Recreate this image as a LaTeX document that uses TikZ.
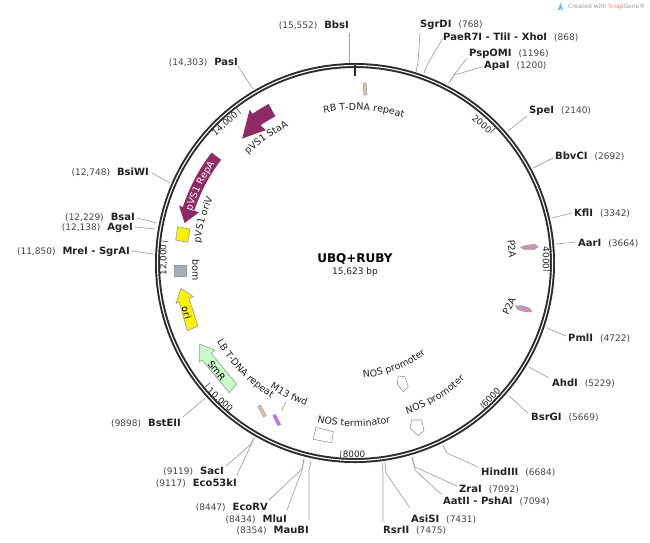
\documentclass[tikz,border=0pt]{standalone}
\usepackage{fontspec}
\usetikzlibrary{decorations.text}
\setmainfont{DejaVu Sans}
\definecolor{ringc}{HTML}{2B2B2B}
\definecolor{leadc}{HTML}{A8A498}
\definecolor{txtc}{HTML}{222222}
\definecolor{numc}{HTML}{444444}
\definecolor{maroonc}{HTML}{8E2A66}
\definecolor{bomc}{HTML}{A8AEB6}
\definecolor{pinkc}{HTML}{CC94B4}
\definecolor{beigec}{HTML}{DCC4A4}
\definecolor{m13c}{HTML}{C070F0}
\definecolor{smrc}{HTML}{C8FBC8}
\tikzset{
  lab/.style={inner sep=0pt,font=\fontsize{10}{12}\selectfont,text=txtc},
  flab/.style={inner sep=0pt,font=\fontsize{9.5}{11}\selectfont,text=txtc},
  ticklab/.style={inner sep=0pt,font=\fontsize{8.8}{11}\selectfont,text=txtc},
  leadline/.style={draw=leadc,line width=0.7pt},
  feat/.style={draw=gray!80,line width=0.6pt},
  pinkf/.style={feat,fill=pinkc},
  maroon/.style={draw=none,fill=maroonc},
  tickl/.style={draw=gray!70!black,line width=0.7pt},
}
\newcommand{\numfont}{\fontsize{9}{11}\selectfont}
\newcommand{\siteR}[5]{\node[lab,anchor=west] (#1) at (#2,#3) {\textbf{#4}\hspace{7pt}\textcolor{numc}{\numfont(#5)}};}
\newcommand{\siteL}[5]{\node[lab,anchor=east] (#1) at (#2,#3) {\textcolor{numc}{\numfont(#5)}\hspace{7pt}\textbf{#4}};}
\newcommand{\leadA}[3]{\coordinate (#1a) at (#2); \coordinate (#1b) at (#3); \draw[leadline] (#1a) -- (#1b);}
\newcommand{\leadB}[4]{\coordinate (#1a) at (#2); \coordinate (#1m) at (#3); \coordinate (#1b) at (#4); \draw[leadline] (#1a) -- (#1m) -- (#1b);}
% curved text: radius of baseline, centre angle, text colour, text
\newcommand{\cwtext}[4]{\pgfmathsetmacro{\aS}{#2+40}\pgfmathsetmacro{\aE}{#2-40}%
  \path[decorate,decoration={text along path,text align=center,text={|\fontsize{9.5}{11}\selectfont\color{#3}|#4}}]
   (\aS:#1 pt) arc[start angle=\aS,end angle=\aE,radius=#1 pt];}
\newcommand{\ccwtext}[4]{\pgfmathsetmacro{\aS}{#2-40}\pgfmathsetmacro{\aE}{#2+40}%
  \path[decorate,decoration={text along path,text align=center,text={|\fontsize{9.5}{11}\selectfont\color{#3}|#4}}]
   (\aS:#1 pt) arc[start angle=\aS,end angle=\aE,radius=#1 pt];}
\begin{document}
\begin{tikzpicture}[x=1pt,y=-1pt]
\useasboundingbox (0,0) rectangle (650,542);
\fill[white] (0,0) rectangle (650,542);
\coordinate (ctr) at (355,263);
% leaders
\leadA{bbs}{349,33}{349,63}
\leadA{pas}{238,66}{253,89}
\leadA{bsi}{152,173}{170,183}
\leadA{bsa}{137,218}{157,223}
\leadA{age}{135,227}{155,229}
\leadA{mre}{132,251}{153,254}
\leadA{bst}{183,417}{205,398}
\leadB{sac}{226,466}{250,445}{254,438}
\leadB{eco}{237,475}{250,447}{254,438}
\leadB{ecr}{269,500}{302,469}{304,459}
\leadB{mlu}{287,510}{302,470}{304,459}
\leadB{mau}{309,520}{309,470}{311,461}
\leadB{rsr}{383,521}{383,473}{382,463}
\leadB{asi}{410,508}{386,473}{385,462}
\leadB{aat}{441,494}{415,470}{412,457}
\leadB{zra}{457,486}{415,467}{412,457}
\leadB{hin}{478,467}{447,453}{443,445}
\leadA{bsr}{528,413}{509,396}
\leadA{ahd}{549,378}{529,367}
\leadA{pml}{566,336}{547,328}
\leadA{aar}{576,242}{556,244}
\leadA{kfl}{572,213}{552,218}
\leadA{bbv}{553,158}{533,168}
\leadA{spe}{527,116}{508,131}
\leadB{psp}{467,58}{454,75}{449,83}
\leadB{apa}{482,67}{454,75}{449,83}
\leadB{pae}{443,38}{427,65}{424,73}
\leadB{sgr}{420,33}{418,62}{416,72}
\coordinate (m13a) at (281.7,410.7); \coordinate (m13b) at (286,401.7);
\draw[leadline] (m13a) -- (m13b);
% ring
\draw[ringc,line width=5pt] (ctr) circle[radius=197.5pt];
\draw[white,line width=1.1pt] (ctr) circle[radius=197.5pt];
\begin{scope}[shift={(355,263)}]
\foreach \a in {43.9,-2.2,-48.3,-94.3,-140.4,173.5,127.4}{
  \draw[tickl] (\a:195pt) -- (\a:188pt);
}
\draw[ringc,line width=1.5pt] (90:198pt) -- (90:187pt);
% pVS1 RepA band
\path[maroon] (142.4:181pt) arc[start angle=142.4,end angle=162,radius=181pt]
  -- (162:185pt) -- (166.8:175pt) -- (162:164pt) -- (162:169pt)
  arc[start angle=162,end angle=142.4,radius=169pt] -- cycle;
% pVS1 StaA band
\path[maroon] (118.5:181pt) arc[start angle=118.5,end angle=124.5,radius=181pt]
  -- (124.5:186pt) -- (132.2:168pt) -- (123.8:160pt) -- (124.5:167pt)
  arc[start angle=124.5,end angle=118.5,radius=167pt] -- cycle;
% curved feature labels
\cwtext{171.5}{153.6}{white}{pVS1 RepA}
\cwtext{153}{86.7}{txtc}{RB T-DNA repeat}
\cwtext{152}{125.3}{txtc}{pVS1 StaA}
\cwtext{156}{164.1}{txtc}{pVS1 oriV}
\ccwtext{159}{223.9}{txtc}{LB T-DNA repeat}
\ccwtext{151}{243.4}{txtc}{M13 fwd}
\ccwtext{163.5}{-90.4}{txtc}{NOS terminator}
\ccwtext{115}{-69}{txtc}{NOS promoter}
\ccwtext{160}{-58.8}{txtc}{NOS promoter}
\end{scope}
% features
\draw[feat,fill=yellow] (177.7,226.7) -- (190,229) -- (187.7,242.3) -- (175.7,240) -- cycle;
\draw[feat,fill=bomc] (174.3,265) rectangle (186.7,276);
\draw[feat,fill=yellow] (181,288.3) -- (193.3,296.7) -- (189,298.3) -- (198,326) -- (187.3,330.7) -- (179.3,302) -- (176,303.3) -- cycle;
\node[flab,rotate=-72,text=black] (orilab) at (186.7,312.7) {ori};
\draw[feat,fill=smrc] (199.3,344) -- (215,350) -- (211,353.3) -- (236.7,384) -- (229.3,392.7) -- (202,360) -- (199.3,361.7) -- cycle;
\node[flab,rotate=-52,text=black] (smr) at (216.7,370.7) {SmR};
\draw[draw=gray!80,line width=0.5pt,fill=beigec,rotate around={4:(365,89)}] (363.5,83) rectangle (366.5,95);
\draw[draw=gray!80,line width=0.5pt,fill=beigec,rotate around={30:(262,411)}] (260.5,405) rectangle (263.5,417);
\fill[m13c,rotate around={27:(276.7,420)}] (275,414) rectangle (278.4,426);
\draw[feat,fill=white] (316,427.3) -- (333.3,431.7) -- (331.7,442.7) -- (313.3,439.3) -- cycle;
\draw[feat,fill=white] (398.3,376) -- (405,376.7) -- (408.3,386.7) -- (403.3,391.7) -- (397.3,384) -- cycle;
\draw[feat,fill=white] (411.7,420) -- (421.7,420) -- (424,430.7) -- (418.3,435.7) -- (410,428.3) -- cycle;
\draw[pinkf] (520.7,247.3) -- (525,245.7) -- (534.3,244.3) -- (538,246.7) -- (534.3,249.3) -- (524,249.3) -- cycle;
\draw[pinkf] (515.7,306) -- (521.7,305.7) -- (530,308.3) -- (531.7,311.7) -- (525,311.7) -- (517.7,309.3) -- cycle;
% straight feature labels
\node[flab,rotate=-90] (bom) at (196,270) {bom};
\node[flab,rotate=-85] (p2a1) at (512,249) {P2A};
\node[flab,rotate=65] (p2a2) at (509,306) {P2A};
% tick labels
\node[ticklab,rotate=-40] (t2) at (482,124) {2000};
\node[ticklab,rotate=-90] (t4) at (546,258) {4000};
\node[ticklab,rotate=45] (t6) at (491,397) {6000};
\node[ticklab] (t8) at (354,454.5) {8000};
\node[ticklab,rotate=-42] (t10) at (220,400) {10,000};
\node[ticklab,rotate=90] (t12) at (163.5,260) {12,000};
\node[ticklab,rotate=42] (t14) at (225,124) {14,000};
% centre
\node[inner sep=0pt,font=\fontsize{12}{14}\selectfont\bfseries,text=black] (title) at (355,259) {UBQ+RUBY};
\node[lab,font=\fontsize{9}{11}\selectfont] (size) at (355,272) {15,623 bp};
% sites
\siteL{sbbs}{349}{25}{BbsI}{15,552}
\siteL{spas}{238}{62}{PasI}{14,303}
\siteL{sbsi}{149}{172}{BsiWI}{12,748}
\siteL{sbsa}{135}{217}{BsaI}{12,229}
\siteL{sage}{133}{228}{AgeI}{12,138}
\siteL{smre}{130}{252}{MreI - SgrAI}{11,850}
\siteL{sbst}{181}{423}{BstEII}{9898}
\siteL{ssac}{224}{471}{SacI}{9119}
\siteL{seco}{237}{483}{Eco53kI}{9117}
\siteL{secr}{268}{507}{EcoRV}{8447}
\siteL{smlu}{287}{519}{MluI}{8434}
\siteL{smau}{309}{530}{MauBI}{8354}
\siteR{srsr}{383}{530}{RsrII}{7475}
\siteR{sasi}{411}{519}{AsiSI}{7431}
\siteR{saat}{443}{501}{AatII - PshAI}{7094}
\siteR{szra}{459}{489}{ZraI}{7092}
\siteR{shin}{481}{472}{HindIII}{6684}
\siteR{sbsr}{531}{417}{BsrGI}{5669}
\siteR{sahd}{552}{383}{AhdI}{5229}
\siteR{spml}{568}{338}{PmlI}{4722}
\siteR{saar}{578}{243}{AarI}{3664}
\siteR{skfl}{574}{213}{KflI}{3342}
\siteR{sbbv}{555}{156}{BbvCI}{2692}
\siteR{sspe}{529}{111}{SpeI}{2140}
\siteR{sapa}{484}{66}{ApaI}{1200}
\siteR{spsp}{469}{54}{PspOMI}{1196}
\siteR{spae}{443}{37}{PaeR7I - TliI - XhoI}{868}
\siteR{ssgr}{420}{25}{SgrDI}{768}
% watermark
\fill[cyan!70!white] (558,10) -- (560.5,3) -- (563,10) -- (561,10) -- (560.5,7) -- (559.7,10) -- cycle;
\node[anchor=west,inner sep=0pt,font=\fontsize{6}{7}\selectfont,text=gray!80] (wm) at (568,6.5) {Created with \textcolor{red!50!white}{Snap}Gene®};
\end{tikzpicture}
\end{document}
